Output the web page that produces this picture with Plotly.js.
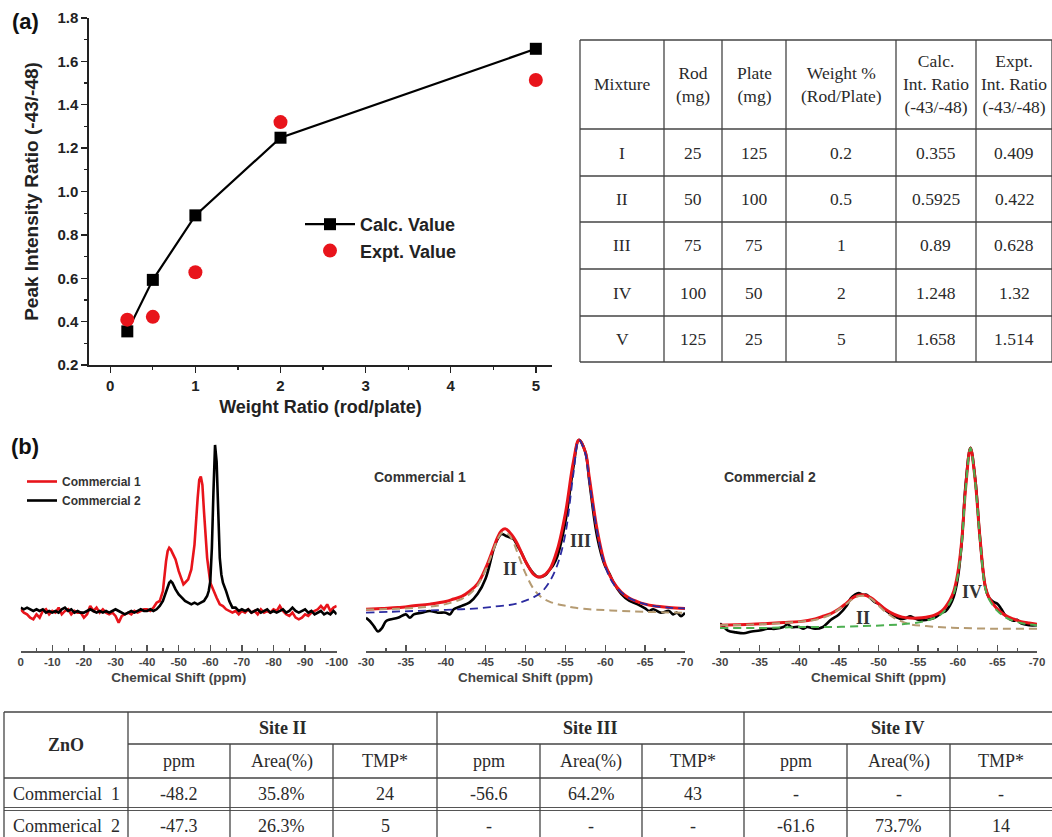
<!DOCTYPE html>
<html>
<head>
<meta charset="utf-8">
<script src="https://cdn.plot.ly/plotly-3.0.1.min.js"></script>
<style>html,body{margin:0;padding:0;background:#fff;}#chart{width:1052px;height:837px;}</style>
</head>
<body>
<div id="chart"></div>
<script>
// ---------- Panel (a) data ----------
const weightRatio = [0.2, 0.5, 1, 2, 5];
const calcRatio = [0.355, 0.5925, 0.89, 1.248, 1.658];
const exptRatio = [0.409, 0.422, 0.628, 1.32, 1.514];
const mixtureLabels = ["I", "II", "III", "IV", "V"];
const rodMg = [25, 50, 75, 100, 125];
const plateMg = [125, 100, 75, 50, 25];
const tableAHeaders = ["Mixture", "Rod<br>(mg)", "Plate<br>(mg)", "Weight %<br>(Rod/Plate)", "Calc.<br>Int. Ratio<br>(-43/-48)", "Expt.<br>Int. Ratio<br>(-43/-48)"];
const aXTicks = [0, 1, 2, 3, 4, 5];

// ---------- Panel (b) overview spectra ----------
const c1Shift = [0,-1,-2,-3,-4,-5,-6,-7,-8,-9,-10,-11,-12,-13,-14,-15,-16,-17,-18,-19,-20,-21,-22,-23,-24,-25,-26,-27,-28,-29,-30,-31,-32,-33,-34,-35,-36,-37,-38,-39,-40,-41,-42,-43,-44,-45,-46,-46.5,-47,-47.5,-48,-49,-50,-51,-51.5,-52,-53,-54,-55,-56,-56.5,-57,-57.5,-58,-59,-60,-61,-62,-63,-64,-65,-66,-67,-68,-69,-70,-71,-72,-73,-74,-75,-76,-77,-78,-79,-80,-81,-82,-83,-84,-85,-86,-87,-88,-89,-90,-91,-92,-93,-94,-95,-96,-97,-98,-99,-100];
const c1Int = [0.01,-0.01,-0.02,-0.04,-0.05,-0.02,-0.04,0.0,0.01,-0.02,0.0,-0.01,0.02,-0.02,0.0,0.01,-0.02,0.0,-0.01,-0.01,-0.04,-0.02,0.03,0.0,0.02,-0.01,0.01,-0.01,-0.02,-0.01,-0.03,-0.07,-0.03,-0.02,-0.01,-0.02,0.0,-0.01,0.0,0.01,0.01,0.0,0.02,0.05,0.06,0.12,0.30,0.36,0.38,0.37,0.35,0.31,0.24,0.18,0.16,0.17,0.19,0.25,0.40,0.68,0.79,0.81,0.76,0.60,0.32,0.17,0.12,0.08,0.04,0.03,0.01,0.0,-0.01,0.0,-0.02,0.0,-0.01,0.01,-0.01,0.0,-0.02,0.01,-0.01,0.0,-0.01,0.01,0.0,0.03,0.0,-0.02,-0.03,-0.01,-0.04,-0.05,-0.04,-0.02,-0.03,-0.01,0.0,0.01,0.03,0.01,0.04,0.0,0.02,0.03];
const c2Shift = [0,-1,-2,-3,-4,-5,-6,-7,-8,-9,-10,-11,-12,-13,-14,-15,-16,-17,-18,-19,-20,-21,-22,-23,-24,-25,-26,-27,-28,-29,-30,-31,-32,-33,-34,-35,-36,-37,-38,-39,-40,-41,-42,-43,-44,-45,-46,-47,-47.5,-48,-49,-50,-51,-52,-53,-54,-55,-56,-57,-58,-59,-59.5,-60,-60.5,-61,-61.5,-62,-62.5,-63,-63.5,-64,-65,-66,-67,-68,-69,-70,-71,-72,-73,-74,-75,-76,-77,-78,-79,-80,-81,-82,-83,-84,-85,-86,-87,-88,-89,-90,-91,-92,-93,-94,-95,-96,-97,-98,-99,-100];
const c2Int = [0.02,0.01,0.02,0.01,0.0,0.01,0.0,0.01,-0.01,0.0,-0.01,0.0,-0.01,0.01,0.02,0.0,0.01,-0.01,0.0,-0.01,-0.01,0.0,0.01,0.0,-0.01,0.0,-0.01,0.0,-0.01,0.0,0.01,0.0,-0.01,-0.02,-0.01,0.0,-0.01,0.0,0.01,0.0,0.0,0.01,0.0,0.01,0.03,0.06,0.12,0.17,0.18,0.17,0.13,0.10,0.08,0.06,0.05,0.04,0.05,0.04,0.05,0.06,0.09,0.12,0.18,0.38,0.72,1.0,0.90,0.58,0.32,0.22,0.17,0.12,0.06,0.02,0.02,0.0,0.01,0.0,0.01,-0.01,0.0,0.01,-0.01,0.0,0.01,-0.01,0.0,-0.01,0.0,0.01,-0.01,0.0,0.02,0.0,-0.01,0.0,0.01,-0.01,0.0,-0.02,-0.01,0.0,-0.02,-0.01,-0.02,0.0,-0.02];
const overviewTicks = [0,-10,-20,-30,-40,-50,-60,-70,-80,-90,-100];

// ---------- Commercial 1 deconvolution ----------
const fit1ExptShift = [-30,-30.5,-31,-31.5,-32,-32.5,-33,-34,-35,-35.5,-36,-37,-38,-39,-40,-40.5,-41,-41.5,-42,-43,-44,-45,-46,-46.5,-47,-47.5,-48,-48.5,-49,-49.5,-50,-50.5,-51,-51.5,-52,-52.5,-53,-53.5,-54,-55,-56,-56.7,-57.5,-58,-59,-60,-60.5,-61,-62,-63,-64,-65,-65.5,-66,-67,-68,-68.5,-69,-69.5,-70];
const fit1ExptInt = [-0.04,-0.06,-0.09,-0.12,-0.10,-0.06,-0.05,-0.04,-0.02,-0.04,-0.02,-0.01,0.0,-0.01,-0.01,-0.02,0.01,0.02,0.03,0.05,0.10,0.19,0.36,0.42,0.45,0.44,0.43,0.42,0.38,0.34,0.29,0.25,0.22,0.20,0.20,0.21,0.24,0.27,0.32,0.52,0.84,1.0,0.93,0.76,0.43,0.26,0.22,0.17,0.10,0.06,0.04,0.015,0.0,0.01,-0.01,0.0,-0.02,-0.01,-0.03,-0.01];
const fit1SumShift = [-30,-32,-34,-36,-38,-40,-41,-42,-43,-44,-45,-46,-46.5,-47,-47.5,-48,-48.5,-49,-50,-51,-51.5,-52,-53,-54,-55,-56,-56.7,-57.5,-58,-59,-60,-61,-62,-63,-64,-65,-66,-68,-70];
const fit1SumInt = [0.01,0.015,0.02,0.03,0.04,0.055,0.07,0.085,0.115,0.16,0.25,0.37,0.43,0.47,0.48,0.46,0.43,0.39,0.29,0.215,0.20,0.20,0.24,0.36,0.57,0.87,1.0,0.93,0.78,0.47,0.27,0.17,0.11,0.075,0.055,0.04,0.03,0.02,0.015];
const fit1SiteIIShift = [-30,-32,-34,-36,-38,-40,-42,-43,-44,-45,-46,-46.5,-47,-47.5,-48,-48.5,-49,-50,-51,-52,-53,-54,-55,-56,-58,-60,-62,-65,-70];
const fit1SiteIIInt = [0.008,0.01,0.013,0.018,0.025,0.04,0.07,0.10,0.15,0.24,0.36,0.42,0.455,0.46,0.44,0.40,0.34,0.22,0.13,0.08,0.055,0.04,0.03,0.02,0.01,0.005,0.0,-0.005,-0.01];
const fit1SiteIIIShift = [-30,-33,-36,-39,-42,-44,-46,-48,-49,-50,-51,-52,-53,-54,-55,-56,-56.7,-57.5,-58,-59,-60,-61,-62,-63,-64,-65,-66,-68,-70];
const fit1SiteIIIInt = [-0.01,-0.005,0.0,0.005,0.01,0.015,0.025,0.035,0.045,0.06,0.08,0.11,0.17,0.27,0.45,0.80,1.0,0.92,0.76,0.46,0.26,0.16,0.11,0.075,0.055,0.04,0.03,0.02,0.015];

// ---------- Commercial 2 deconvolution ----------
const fit2ExptShift = [-30,-30.5,-31,-32,-33,-34,-35,-36,-37,-38,-38.5,-39,-40,-40.5,-41,-42,-43,-43.5,-44,-45,-46,-46.5,-47,-47.5,-48,-48.5,-49,-49.5,-50,-51,-52,-53,-53.5,-54,-54.5,-55,-56,-57,-58,-58.5,-59,-59.5,-60,-60.5,-61,-61.6,-62.2,-62.8,-63.5,-64,-64.5,-65,-65.5,-66,-67,-67.5,-68,-69,-70];
const fit2ExptInt = [0.02,0.0,-0.02,-0.03,-0.035,-0.025,-0.02,-0.01,-0.01,0.0,0.015,0.0,0.0,-0.01,0.0,-0.01,0.0,0.02,0.04,0.07,0.12,0.16,0.18,0.19,0.18,0.18,0.16,0.14,0.13,0.09,0.06,0.045,0.05,0.06,0.05,0.04,0.04,0.05,0.08,0.09,0.12,0.17,0.27,0.47,0.80,1.0,0.83,0.50,0.22,0.16,0.14,0.13,0.10,0.065,0.035,0.04,0.02,0.01,0.01];
const fit2SumShift = [-30,-32,-34,-36,-38,-40,-42,-43,-44,-45,-46,-47,-48,-49,-50,-51,-52,-53,-54,-55,-56,-57,-58,-59,-59.5,-60,-60.5,-61,-61.6,-62.2,-62.8,-63.5,-64,-65,-66,-67,-68,-69,-70];
const fit2SumInt = [0.01,0.012,0.015,0.02,0.025,0.03,0.045,0.06,0.075,0.10,0.135,0.17,0.18,0.165,0.13,0.095,0.07,0.055,0.05,0.05,0.055,0.065,0.09,0.15,0.20,0.30,0.48,0.78,1.0,0.82,0.50,0.22,0.16,0.10,0.065,0.045,0.03,0.022,0.016];
const fit2SiteIVShift = [-30,-36,-40,-44,-48,-51,-53,-55,-56,-57,-58,-59,-59.5,-60,-60.5,-61,-61.6,-62.2,-62.8,-63.5,-64,-65,-66,-67,-68,-69,-70];
const fit2SiteIVInt = [-0.005,-0.005,0.0,0.0,0.005,0.01,0.015,0.025,0.035,0.05,0.075,0.135,0.185,0.285,0.465,0.77,1.0,0.81,0.49,0.21,0.15,0.09,0.055,0.035,0.022,0.015,0.01];
const fit2SiteIIShift = [-30,-35,-40,-42,-44,-45,-46,-47,-48,-49,-50,-51,-52,-53,-54,-56,-60,-65,-70];
const fit2SiteIIInt = [0.01,0.015,0.03,0.04,0.07,0.10,0.13,0.165,0.175,0.16,0.12,0.08,0.05,0.03,0.015,0.005,-0.005,-0.01,-0.01];
const fitTicks = [-30,-35,-40,-45,-50,-55,-60,-65,-70];

// ---------- Bottom table ----------
const siteHeaders = ["Site II", "Site III", "Site IV"];
const subHeaders = ["ppm", "Area(%)", "TMP*"];
const sampleNames = ["Commercial  1", "Commerical  2"];
const sample1Values = ["-48.2", "35.8%", "24", "-56.6", "64.2%", "43", "-", "-", "-"];
const sample2Values = ["-47.3", "26.3%", "5", "-", "-", "-", "-61.6", "73.7%", "14"];

// ---------- helpers ----------
const W = 1052, H = 837;
const px = x => x / W;
const py = y => 1 - y / H;
const RED = '#e8141b';
const serif = 'Liberation Serif';
const sans = 'Liberation Sans';
const shapes = [];
const annotations = [];
function hline(x0, x1, y, c, w) { shapes.push({type:'line', xref:'paper', yref:'paper', x0:px(x0), x1:px(x1), y0:py(y), y1:py(y), line:{color:c||'#444', width:w||1.3}}); }
function vline(x, y0, y1, c, w) { shapes.push({type:'line', xref:'paper', yref:'paper', x0:px(x), x1:px(x), y0:py(y0), y1:py(y1), line:{color:c||'#444', width:w||1.3}}); }
function text(x, y, t, size, opts) {
  opts = opts || {};
  annotations.push({xref:'paper', yref:'paper', x:px(x), y:py(y), text:t, showarrow:false,
    xanchor:opts.xanchor||'center', yanchor:'middle',
    font:{family:opts.family||serif, size:size, color:opts.color||'#2a2a2a', weight:opts.weight||'normal'}});
}

// ---------- Table (a) ----------
const tAx = [580, 664, 722, 786, 896, 976, 1052];
const tAy = [40, 129, 176, 222, 269, 316, 362];
tAy.forEach(y => hline(tAx[0], tAx[tAx.length-1], y));
tAx.forEach(x => vline(x, tAy[0], tAy[tAy.length-1]));
const tAcols = [mixtureLabels, rodMg, plateMg, weightRatio, calcRatio, exptRatio];
tableAHeaders.forEach((h, i) => text((tAx[i]+tAx[i+1])/2, (tAy[0]+tAy[1])/2, h, 17.5));
tAcols.forEach((col, i) => col.forEach((v, r) => text((tAx[i]+tAx[i+1])/2, (tAy[r+1]+tAy[r+2])/2, String(v), 17.5)));

// ---------- Bottom table ----------
const tBx = [4, 128, 230, 333, 437, 540, 642, 744, 847, 950, 1052];
const tBy = [712, 744, 778, 809, 842];
hline(tBx[0], 1052, tBy[0]);
hline(tBx[1], 1052, tBy[1]);
hline(tBx[0], 1052, tBy[2]);
hline(tBx[0], 1052, tBy[3]-1.5, '#555', 1);
hline(tBx[0], 1052, tBy[3]+1.5, '#555', 1);
[0, 1, 4, 7].forEach(i => vline(tBx[i], tBy[0], 837));
[2, 3, 5, 6, 8, 9].forEach(i => vline(tBx[i], tBy[1], 837));
text((tBx[0]+tBx[1])/2, (tBy[0]+tBy[2])/2, 'ZnO', 18, {weight:'bold'});
siteHeaders.forEach((s, k) => text((tBx[1+3*k]+tBx[4+3*k])/2, (tBy[0]+tBy[1])/2, s, 18, {weight:'bold'}));
for (let k = 0; k < 3; k++) subHeaders.forEach((s, j) => { const c = 1+3*k+j; text((tBx[c]+tBx[c+1])/2, (tBy[1]+tBy[2])/2, s, 18); });
[sample1Values, sample2Values].forEach((vals, r) => {
  text((tBx[0]+tBx[1])/2, (tBy[2+r]+tBy[3+r])/2, sampleNames[r], 18);
  vals.forEach((v, j) => text((tBx[1+j]+tBx[2+j])/2, (tBy[2+r]+tBy[3+r])/2, v, 18));
});

// ---------- panel labels ----------
text(25, 22, '(a)', 22, {family:sans, weight:'bold', color:'#111'});
text(25, 446, '(b)', 22, {family:sans, weight:'bold', color:'#111'});
text(420, 477, 'Commercial 1', 14, {family:sans, weight:'bold', color:'#333'});
text(770, 477, 'Commercial 2', 14, {family:sans, weight:'bold', color:'#333'});
text(510, 569, 'II', 18, {weight:'bold', color:'#333'});
text(580, 541, 'III', 18, {weight:'bold', color:'#333'});
text(863, 618, 'II', 18, {weight:'bold', color:'#333'});
text(972, 592, 'IV', 18, {weight:'bold', color:'#333'});

// ---------- traces ----------
const traces = [
  {x: weightRatio, y: calcRatio, type:'scatter', mode:'lines+markers', name:'Calc. Value', legend:'legend',
   line:{color:'#000', width:2.2}, marker:{symbol:'square', size:12, color:'#000'}, xaxis:'x', yaxis:'y'},
  {x: weightRatio, y: exptRatio, type:'scatter', mode:'markers', name:'Expt. Value', legend:'legend',
   marker:{symbol:'circle', size:14, color:RED}, xaxis:'x', yaxis:'y'},
  {x: c1Shift, y: c1Int, type:'scatter', mode:'lines', name:'Commercial 1', legend:'legend2',
   line:{color:RED, width:2.6}, xaxis:'x2', yaxis:'y2'},
  {x: c2Shift, y: c2Int, type:'scatter', mode:'lines', name:'Commercial 2', legend:'legend2',
   line:{color:'#000', width:2.6}, xaxis:'x2', yaxis:'y2'},
  {x: fit1ExptShift, y: fit1ExptInt, type:'scatter', mode:'lines', showlegend:false, line:{color:'#000', width:2.6, shape:'spline'}, xaxis:'x3', yaxis:'y3'},
  {x: fit1SumShift, y: fit1SumInt, type:'scatter', mode:'lines', showlegend:false, line:{color:RED, width:3, shape:'spline'}, xaxis:'x3', yaxis:'y3'},
  {x: fit1SiteIIShift, y: fit1SiteIIInt, type:'scatter', mode:'lines', showlegend:false, line:{color:'#b59b72', width:2, dash:'8px,5px', shape:'spline'}, xaxis:'x3', yaxis:'y3'},
  {x: fit1SiteIIIShift, y: fit1SiteIIIInt, type:'scatter', mode:'lines', showlegend:false, line:{color:'#2b2ba0', width:1.8, dash:'8px,5px', shape:'spline'}, xaxis:'x3', yaxis:'y3'},
  {x: fit2ExptShift, y: fit2ExptInt, type:'scatter', mode:'lines', showlegend:false, line:{color:'#000', width:2.6, shape:'spline'}, xaxis:'x4', yaxis:'y4'},
  {x: fit2SumShift, y: fit2SumInt, type:'scatter', mode:'lines', showlegend:false, line:{color:RED, width:3, shape:'spline'}, xaxis:'x4', yaxis:'y4'},
  {x: fit2SiteIIShift, y: fit2SiteIIInt, type:'scatter', mode:'lines', showlegend:false, line:{color:'#b59b72', width:2, dash:'8px,5px', shape:'spline'}, xaxis:'x4', yaxis:'y4'},
  {x: fit2SiteIVShift, y: fit2SiteIVInt, type:'scatter', mode:'lines', showlegend:false, line:{color:'#4caf50', width:2, dash:'8px,5px', shape:'spline'}, xaxis:'x4', yaxis:'y4'}
];

const bTickFont = {family:sans, size:11.5, color:'#444', weight:'bold'};
const bTitleFont = {family:sans, size:13.5, color:'#444', weight:'bold'};
function bXAxis(d0, d1, range, ticks, minorDt) {
  return {domain:[px(d0), px(d1)], range:range, anchor:null, showgrid:false, zeroline:false,
    showline:true, linecolor:'#555', linewidth:1.5, ticks:'inside', ticklen:6, tickwidth:1.3, tickcolor:'#555',
    tickmode:'array', tickvals:ticks, ticktext:ticks.map(String), tickfont:bTickFont,
    minor:{tickmode:'linear', tick0:0, dtick:minorDt, ticks:'inside', ticklen:3, tickwidth:1.2, tickcolor:'#555'},
    title:{text:'Chemical Shift (ppm)', font:bTitleFont, standoff:5}};
}
function bYAxis(lo, hi) {
  return {domain:[py(651), py(430)], range:[lo, hi], visible:false, showgrid:false, zeroline:false};
}

const ax2 = bXAxis(20.7, 336.7, [0, -100], overviewTicks, 5); ax2.anchor = 'y2';
const ax3 = bXAxis(366, 685, [-30, -70], fitTicks, 2.5); ax3.anchor = 'y3';
const ax4 = bXAxis(720, 1037, [-30, -70], fitTicks, 2.5); ax4.anchor = 'y4';

const layout = {
  width: W, height: H,
  margin:{l:0, r:0, t:0, b:0},
  paper_bgcolor:'#fff', plot_bgcolor:'rgba(0,0,0,0)',
  showlegend:true,
  xaxis:{domain:[px(89), px(552)], range:[-0.25, 5.19], anchor:'y', showgrid:false, zeroline:false,
    showline:true, linecolor:'#222', linewidth:1.6, ticks:'outside', ticklen:6, tickwidth:1.4, tickcolor:'#222',
    tickmode:'array', tickvals:aXTicks, tickfont:{family:sans, size:15, color:'#222', weight:'bold'},
    minor:{tickmode:'linear', tick0:0, dtick:0.5, ticks:'outside', ticklen:3, tickwidth:1.2, tickcolor:'#222'},
    title:{text:'Weight Ratio (rod/plate)', font:{family:sans, size:18, color:'#222', weight:'bold'}, standoff:8}},
  yaxis:{domain:[py(365), py(18)], range:[0.2, 1.8], anchor:'x', showgrid:false, zeroline:false,
    showline:true, linecolor:'#222', linewidth:1.6, ticks:'outside', ticklen:6, tickwidth:1.4, tickcolor:'#222',
    dtick:0.2, tick0:0.2, tickformat:'.1f', tickfont:{family:sans, size:15, color:'#222', weight:'bold'},
    minor:{dtick:0.1, ticks:'outside', ticklen:3, tickwidth:1.2, tickcolor:'#222'},
    title:{text:'Peak Intensity Ratio (-43/-48)', font:{family:sans, size:19, color:'#222', weight:'bold'}, standoff:14}},
  xaxis2: ax2, yaxis2: Object.assign(bYAxis(-0.241, 1.09), {anchor:'x2'}),
  xaxis3: ax3, yaxis3: Object.assign(bYAxis(-0.234, 1.058), {anchor:'x3'}),
  xaxis4: ax4, yaxis4: Object.assign(bYAxis(-0.134, 1.10), {anchor:'x4'}),
  legend:{x:px(300), y:py(206), xanchor:'left', yanchor:'top', bgcolor:'rgba(0,0,0,0)', itemwidth:50,
    font:{family:sans, size:18, color:'#222', weight:'bold'}, tracegroupgap:0},
  legend2:{x:px(22), y:py(467), xanchor:'left', yanchor:'top', bgcolor:'rgba(0,0,0,0)',
    font:{family:sans, size:12, color:'#333', weight:'bold'}, tracegroupgap:0},
  shapes: shapes,
  annotations: annotations
};

Plotly.newPlot('chart', traces, layout, {staticPlot:true, displayModeBar:false});
</script>
</body>
</html>
